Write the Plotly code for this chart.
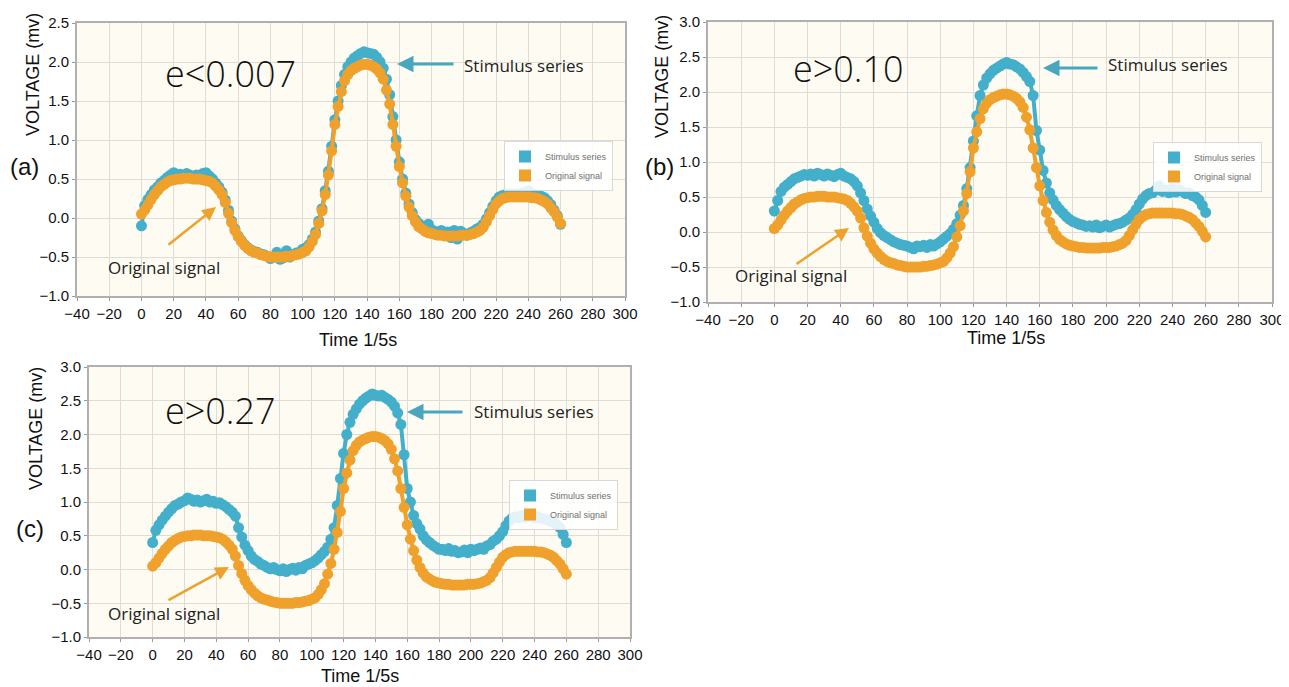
import plotly.graph_objects as go

W, H = 1289, 687
OFF = 8  # default page body margin in the browser
FW, FH = W - OFF, H - OFF

# ---------------- data ----------------
time = list(range(0, 262, 2))

original_signal = [
    0.05, 0.10, 0.17, 0.24, 0.30, 0.35, 0.40, 0.43, 0.46, 0.48,
    0.49, 0.50, 0.50, 0.51, 0.51, 0.51, 0.50, 0.50, 0.50, 0.49,
    0.48, 0.47, 0.45, 0.41, 0.36, 0.30, 0.20, 0.06, -0.06, -0.16,
    -0.24, -0.30, -0.35, -0.39, -0.42, -0.44, -0.45, -0.47, -0.48, -0.49,
    -0.50, -0.50, -0.50, -0.50, -0.50, -0.49, -0.49, -0.48, -0.47, -0.46,
    -0.44, -0.42, -0.37, -0.30, -0.21, -0.07, 0.09, 0.30, 0.55, 0.86,
    1.20, 1.43, 1.62, 1.76, 1.84, 1.89, 1.92, 1.94, 1.96, 1.97,
    1.97, 1.96, 1.94, 1.91, 1.86, 1.78, 1.64, 1.46, 1.20, 0.92,
    0.66, 0.45, 0.28, 0.14, 0.03, -0.05, -0.11, -0.14, -0.17, -0.19,
    -0.20, -0.21, -0.22, -0.22, -0.23, -0.23, -0.23, -0.23, -0.23, -0.22,
    -0.22, -0.22, -0.21, -0.20, -0.18, -0.16, -0.12, -0.05, 0.03, 0.11,
    0.18, 0.22, 0.25, 0.26, 0.27, 0.27, 0.27, 0.27, 0.27, 0.27,
    0.27, 0.26, 0.26, 0.25, 0.23, 0.21, 0.18, 0.13, 0.08, 0.01,
    -0.07,
]

stimulus_a = [
    -0.10, 0.16, 0.24, 0.30, 0.36, 0.40, 0.45, 0.48, 0.52, 0.55,
    0.58, 0.55, 0.56, 0.54, 0.57, 0.55, 0.53, 0.55, 0.54, 0.57,
    0.58, 0.54, 0.50, 0.45, 0.40, 0.33, 0.23, 0.10, -0.04, -0.14,
    -0.23, -0.29, -0.34, -0.38, -0.41, -0.43, -0.44, -0.46, -0.47, -0.49,
    -0.52, -0.50, -0.44, -0.53, -0.51, -0.42, -0.50, -0.47, -0.45, -0.44,
    -0.40, -0.38, -0.34, -0.27, -0.18, -0.04, 0.12, 0.35, 0.60, 0.92,
    1.26, 1.50, 1.70, 1.84, 1.94, 2.00, 2.05, 2.08, 2.11, 2.13,
    2.12, 2.11, 2.10, 2.06, 2.00, 1.92, 1.78, 1.58, 1.30, 1.00,
    0.72, 0.50, 0.32, 0.18, 0.07, -0.02, -0.07, -0.10, -0.13, -0.08,
    -0.15, -0.17, -0.20, -0.16, -0.22, -0.18, -0.25, -0.16, -0.27, -0.17,
    -0.20, -0.22, -0.19, -0.17, -0.14, -0.12, -0.08, -0.01, 0.07, 0.15,
    0.22, 0.27, 0.29, 0.30, 0.31, 0.30, 0.31, 0.30, 0.32, 0.33,
    0.35, 0.31, 0.30, 0.29, 0.28, 0.26, 0.22, 0.17, 0.10, 0.03,
    -0.08,
]

stimulus_b = [
    0.30, 0.45, 0.58, 0.64, 0.68, 0.72, 0.76, 0.78, 0.80, 0.82,
    0.81, 0.83, 0.80, 0.84, 0.82, 0.80, 0.83, 0.81, 0.79, 0.82,
    0.84, 0.80, 0.78, 0.76, 0.72, 0.66, 0.56, 0.45, 0.33, 0.23,
    0.14, 0.05, -0.01, -0.05, -0.08, -0.11, -0.14, -0.16, -0.18, -0.19,
    -0.20, -0.22, -0.24, -0.20, -0.21, -0.19, -0.22, -0.18, -0.20, -0.17,
    -0.14, -0.10, -0.06, -0.02, 0.04, 0.12, 0.24, 0.38, 0.62, 0.92,
    1.30, 1.66, 1.95, 2.10, 2.20, 2.26, 2.31, 2.34, 2.37, 2.40,
    2.42, 2.40, 2.39, 2.36, 2.33, 2.28, 2.22, 2.15, 1.95, 1.45,
    1.17, 0.88, 0.70, 0.56, 0.46, 0.38, 0.32, 0.27, 0.22, 0.18,
    0.15, 0.13, 0.11, 0.10, 0.08, 0.09, 0.07, 0.10, 0.06, 0.08,
    0.10, 0.07, 0.09, 0.11, 0.12, 0.14, 0.17, 0.20, 0.25, 0.32,
    0.40, 0.47, 0.52, 0.55, 0.56, 0.60, 0.66, 0.58, 0.60, 0.56,
    0.62, 0.57, 0.60, 0.58, 0.55, 0.56, 0.52, 0.50, 0.46, 0.38,
    0.28,
]

stimulus_c = [
    0.40, 0.58, 0.66, 0.73, 0.79, 0.85, 0.90, 0.95, 0.97, 1.00,
    1.02, 1.06, 1.04, 1.01, 1.03, 1.00, 1.02, 1.04, 1.00, 1.01,
    0.98, 0.99, 0.96, 0.93, 0.89, 0.85, 0.79, 0.62, 0.48, 0.36,
    0.28, 0.20, 0.15, 0.12, 0.08, 0.06, 0.03, 0.01, 0.03, 0.00,
    -0.02, 0.01, -0.03, 0.00, 0.02, -0.01, 0.03, 0.01, 0.06, 0.08,
    0.10, 0.13, 0.17, 0.22, 0.27, 0.33, 0.45, 0.62, 0.95, 1.35,
    1.72, 2.00, 2.18, 2.30, 2.38, 2.45, 2.50, 2.54, 2.57, 2.60,
    2.58, 2.57, 2.58, 2.55, 2.52, 2.48, 2.42, 2.32, 2.15, 1.70,
    1.20, 1.00, 0.80, 0.68, 0.60, 0.50, 0.44, 0.40, 0.36, 0.33,
    0.30, 0.30, 0.28, 0.31, 0.27, 0.28, 0.25, 0.26, 0.29, 0.25,
    0.30, 0.28, 0.30, 0.32, 0.30, 0.35, 0.37, 0.42, 0.45, 0.50,
    0.56, 0.65, 0.72, 0.76, 0.78, 0.77, 0.80, 0.77, 0.79, 0.82,
    0.76, 0.78, 0.76, 0.75, 0.73, 0.72, 0.70, 0.66, 0.62, 0.52,
    0.40,
]

x_ticks = list(range(-40, 301, 20))
y_ticks_a = [-1.0, -0.5, 0.0, 0.5, 1.0, 1.5, 2.0, 2.5]
y_ticks_bc = [-1.0, -0.5, 0.0, 0.5, 1.0, 1.5, 2.0, 2.5, 3.0]

panel_labels = ["(a)", "(b)", "(c)"]
error_labels = ["e<0.007", "e>0.10", "e>0.27"]
series_names = ["Stimulus series", "Original signal"]

# ---------------- style ----------------
BLUE = "#43AFCB"
ORANGE = "#EFA12C"
ARROW_BLUE = "#4AA6BE"
ARROW_ORANGE = "#EDA22F"
BG = "#FEFCF2"
GRID = "#DEDCD4"
BORDER = "#B0B0B0"
TICKFONT = dict(family="Liberation Sans, Arial", size=15, color="#111")


def px(x, y):
    """screen pixel -> paper fraction (figure drawn at an 8px page offset)"""
    return (x - OFF) / FW, 1 - (y - OFF) / FH


# plot areas in screen pixels: (left, right, top, bottom)
areas = [
    (77, 625, 23, 296),
    (708, 1272, 22, 302),
    (89, 630, 367, 637),
]
y_ranges = [[-1.0, 2.5], [-1.0, 3.0], [-1.0, 3.0]]
y_ticks = [y_ticks_a, y_ticks_bc, y_ticks_bc]
stimuli = [stimulus_a, stimulus_b, stimulus_c]

fig = go.Figure()

for i in range(3):
    l, r, t, b = areas[i]
    sfx = "" if i == 0 else str(i + 1)
    xa, ya = "x" + sfx, "y" + sfx
    lg = "legend" + sfx
    fig.add_trace(go.Scatter(
        x=time, y=stimuli[i], mode="lines+markers", xaxis=xa, yaxis=ya,
        line=dict(color=BLUE, width=4),
        marker=dict(color=BLUE, size=11), showlegend=False,
        name=series_names[0]))
    fig.add_trace(go.Scatter(
        x=time, y=original_signal, mode="lines+markers", xaxis=xa, yaxis=ya,
        line=dict(color=ORANGE, width=4),
        marker=dict(color=ORANGE, size=11), showlegend=False,
        name=series_names[1]))
    # legend-only entries with square swatches
    for name, col in zip(series_names, [BLUE, ORANGE]):
        fig.add_trace(go.Scatter(
            x=[None], y=[None], mode="markers", xaxis=xa, yaxis=ya,
            marker=dict(color=col, size=10, symbol="square"),
            name=name, legend=lg, showlegend=True))

    x0, _ = px(l, 0)
    x1, _ = px(r, 0)
    _, y0 = px(0, b)
    _, y1 = px(0, t)
    axis_common = dict(showgrid=True, gridcolor=GRID, gridwidth=1,
                       showline=True, linecolor=BORDER, linewidth=2,
                       mirror=True, zeroline=False, tickfont=TICKFONT,
                       ticks="outside", ticklen=3, tickcolor="#999",
                       automargin=False)
    fig.layout["xaxis" + sfx] = dict(
        domain=[x0, x1], range=[-40, 300], tickvals=x_ticks,
        anchor=ya, **axis_common)
    fig.layout["yaxis" + sfx] = dict(
        domain=[y0, y1], range=y_ranges[i], tickvals=y_ticks[i],
        tickformat=".1f", anchor=xa, **axis_common)

# legend boxes: right edge and top in screen pixels
legend_pos = [(613, 141), (1262, 142), (618, 480)]
for i, (lx, ly) in enumerate(legend_pos):
    sfx = "" if i == 0 else str(i + 1)
    X, Y = px(lx, ly)
    fig.layout["legend" + sfx] = dict(
        x=X, y=Y, xref="paper", yref="paper", xanchor="right", yanchor="top",
        bgcolor="rgba(255,255,255,0.85)", bordercolor="#D8D8D8", borderwidth=1,
        font=dict(family="Liberation Sans Narrow, Liberation Sans, Arial",
                  size=9, color="#707070"),
        itemsizing="constant", tracegroupgap=0, itemwidth=30)

annotations = []


def text(xp, yp, s, size, xanchor="left", family="Open Sans", color="#222",
         angle=0, weight=None):
    X, Y = px(xp, yp)
    f = dict(family=family, size=size, color=color)
    if weight is not None:
        f["weight"] = weight
    annotations.append(dict(x=X, y=Y, xref="paper", yref="paper", text=s,
                            showarrow=False, xanchor=xanchor, yanchor="middle",
                            textangle=angle, font=f))


def arrow(hx, hy, tx, ty, color, width):
    X, Y = px(hx, hy)
    annotations.append(dict(x=X, y=Y, xref="paper", yref="paper", text="",
                            showarrow=True, ax=tx - hx, ay=ty - hy,
                            arrowcolor=color, arrowwidth=width, arrowhead=2,
                            arrowsize=1.1, standoff=0))


# error labels
err_pos = [(163, 73), (791, 68), (163, 410)]
for (ex, ey), s in zip(err_pos, error_labels):
    text(ex, ey, s, 36, family="Open Sans", color="#111", weight=300)

# panel labels
lab_pos = [(8, 166), (643, 166), (14, 528)]
for (lx, ly), s in zip(lab_pos, panel_labels):
    text(lx, ly, s, 24, family="Liberation Sans, Arial", color="#111")

# stimulus series callouts
stim_txt = [(462, 65), (1106, 64), (472, 411)]
stim_arr = [((397, 64), (455, 64)), ((1043, 68), (1099, 68)),
            ((407, 412), (464, 412))]
for (sx, sy), (h, t_) in zip(stim_txt, stim_arr):
    text(sx, sy, series_names[0], 17, color="#222")
    arrow(h[0], h[1], t_[0], t_[1], ARROW_BLUE, 3)

# original signal callouts
orig_txt = [(106, 267), (733, 276), (106, 613)]
orig_arr = [((216, 207), (167, 246)), ((849, 228), (795, 265)),
            ((229, 567), (167, 601))]
for (ox, oy), (h, t_) in zip(orig_txt, orig_arr):
    text(ox, oy, series_names[1], 17, color="#222")
    arrow(h[0], h[1], t_[0], t_[1], ARROW_ORANGE, 2.5)

# axis titles
ytitle_pos = [(33, 75), (662, 77), (36, 429)]
for (tx, ty) in ytitle_pos:
    text(tx, ty, "VOLTAGE (mv)", 18, xanchor="center",
         family="Liberation Sans, Arial", color="#111", angle=-90)
xtitle_pos = [(358, 340), (1006, 338), (360, 676)]
for (tx, ty) in xtitle_pos:
    text(tx, ty, "Time 1/5s", 18, xanchor="center",
         family="Liberation Sans, Arial", color="#111")

fig.update_layout(
    width=FW, height=FH, autosize=False,
    margin=dict(l=0, r=0, t=0, b=0, pad=0),
    paper_bgcolor="white", plot_bgcolor=BG,
    annotations=annotations,
)

fig.write_html("out.html")
